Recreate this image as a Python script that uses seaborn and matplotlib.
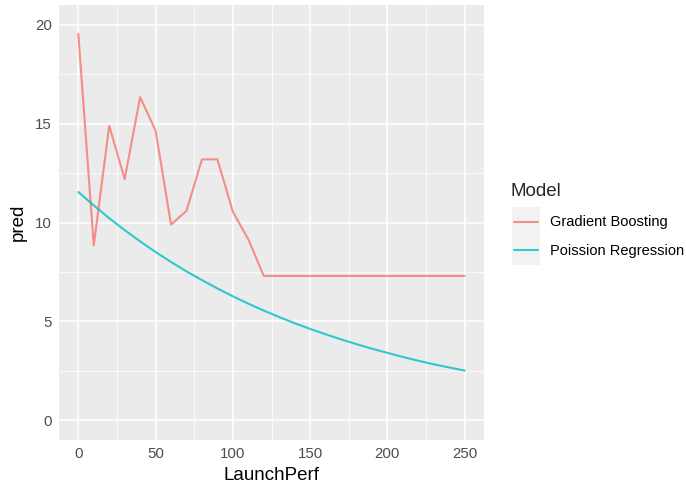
import numpy as np
import pandas as pd
import matplotlib
matplotlib.use('Agg')
import matplotlib.pyplot as plt
import seaborn as sns
from matplotlib.patches import Rectangle
from matplotlib.lines import Line2D
from matplotlib.ticker import MultipleLocator

# Values
launch_gb = [0, 10, 20, 30, 40, 50, 60, 70, 80, 90, 100, 110, 120, 130, 140, 150,
             160, 170, 180, 190, 200, 210, 220, 230, 240, 250]
pred_gb = [19.55, 8.85, 14.9, 12.2, 16.35, 14.65, 9.9, 10.6, 13.2, 13.2, 10.55, 9.15,
           7.3, 7.3, 7.3, 7.3, 7.3, 7.3, 7.3, 7.3, 7.3, 7.3, 7.3, 7.3, 7.3, 7.3]

launch_pr = [0, 10, 20, 30, 40, 50, 60, 70, 80, 90, 100, 110, 120, 130, 140, 150,
             160, 170, 180, 190, 200, 210, 220, 230, 240, 250]
pred_pr = [11.55, 10.87, 10.22, 9.62, 9.05, 8.51, 8.01, 7.53, 7.09, 6.67, 6.27, 5.90,
           5.55, 5.22, 4.91, 4.62, 4.35, 4.09, 3.85, 3.62, 3.41, 3.20, 3.01, 2.83, 2.67, 2.51]

models = ['Gradient Boosting', 'Poission Regression']
colors = ['#F8766D', '#00BFC4']

df = pd.DataFrame({
    'LaunchPerf': launch_gb + launch_pr,
    'pred': pred_gb + pred_pr,
    'Model': [models[0]] * len(launch_gb) + [models[1]] * len(launch_pr),
})

sns.set_theme(style='darkgrid', rc={
    'axes.facecolor': '#EBEBEB',
    'grid.color': 'white',
    'axes.edgecolor': 'none',
})
plt.rcParams['font.family'] = ['Liberation Sans', 'DejaVu Sans']

W, H = 686, 486
fig = plt.figure(figsize=(W / 100, H / 100), dpi=100)
ax = fig.add_axes([59 / W, 46 / H, 425 / W, 434.8 / H])

sns.lineplot(data=df, x='LaunchPerf', y='pred', hue='Model', hue_order=models,
             palette=colors, linewidth=1.5, alpha=0.8, ax=ax, legend=False)

ax.set_xlim(-12.5, 262.5)
ax.set_ylim(-1, 21)
ax.xaxis.set_major_locator(MultipleLocator(50))
ax.xaxis.set_minor_locator(MultipleLocator(25))
ax.yaxis.set_major_locator(MultipleLocator(5))
ax.yaxis.set_minor_locator(MultipleLocator(2.5))
ax.grid(which='major', color='white', linewidth=1.1)
ax.grid(which='minor', color='white', linewidth=0.55)
ax.set_axisbelow(True)
for s in ax.spines.values():
    s.set_visible(False)

ax.tick_params(axis='both', which='major', length=3, width=0.9, color='#333333',
               labelcolor='#4D4D4D', labelsize=10.8, pad=2)
ax.tick_params(axis='both', which='minor', length=0)
ax.set_xlabel('LaunchPerf', fontsize=13.5, color='black', labelpad=4)
ax.set_ylabel('pred', fontsize=13.5, color='black', labelpad=6)

# legend, drawn ggplot style to the right of the panel
fig.patches.append(Rectangle((512 / W, 1 - 265 / H), 28 / W, 58 / H,
                             transform=fig.transFigure, facecolor='#F2F2F2',
                             edgecolor='none', zorder=0))
fig.text(511 / W, 1 - 191 / H, 'Model', fontsize=13.5, ha='left', va='center')
for i, (m, c) in enumerate(zip(models, colors)):
    y = 1 - (222 + 28.5 * i) / H
    fig.add_artist(Line2D([514 / W, 538 / W], [y, y], transform=fig.transFigure,
                          color=c, linewidth=1.5, alpha=0.8))
    fig.text(550 / W, y, m, fontsize=10.5, ha='left', va='center', color='black')

fig.savefig('out.png', dpi=100)
